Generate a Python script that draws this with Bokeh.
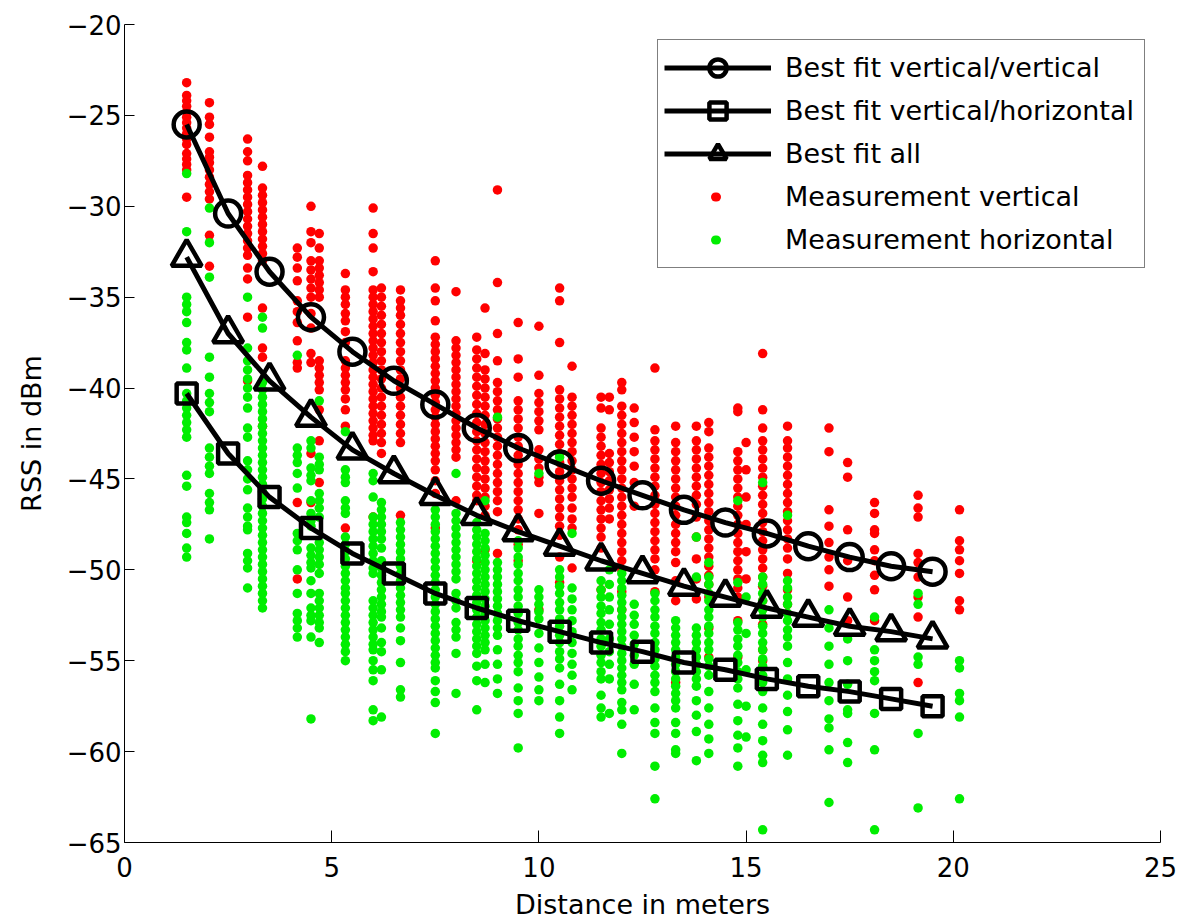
from bokeh.plotting import figure
from bokeh.models import Range1d, FixedTicker, Legend, LegendItem, CustomJSTickFormatter
from bokeh.embed import file_html
from bokeh.resources import INLINE

FONT = "DejaVu Sans"

# ---------------- data ----------------
fit_distance = [1.5, 2.5, 3.5, 4.5, 5.5, 6.5, 7.5, 8.5, 9.5, 10.5,
                11.5, 12.5, 13.5, 14.5, 15.5, 16.5, 17.5, 18.5, 19.5]
fit_vert_vert = [-25.5, -30.4, -33.6, -36.1, -38.0, -39.6, -40.9, -42.2, -43.3, -44.2,
                 -45.1, -45.9, -46.7, -47.4, -48.0, -48.7, -49.3, -49.8, -50.1]
fit_vert_horiz = [-40.3, -43.6, -46.0, -47.7, -49.1, -50.2, -51.3, -52.1, -52.8, -53.4,
                  -54.0, -54.5, -55.1, -55.5, -56.0, -56.4, -56.7, -57.1, -57.5]
fit_all = [-32.8, -37.0, -39.6, -41.6, -43.4, -44.7, -45.9, -47.0, -47.9, -48.7,
           -49.5, -50.2, -50.9, -51.5, -52.1, -52.6, -53.1, -53.4, -53.8]

meas_distance = [1.5, 2.05, 2.97, 3.33, 4.17, 4.5, 4.7, 5.33, 6.0, 6.2, 6.66, 7.5, 8.0,
                 8.5, 8.7, 9.0, 9.5, 10.0, 10.5, 10.8, 11.5, 11.7, 12.0, 12.3, 12.8,
                 13.3, 13.8, 14.1, 14.8, 15.0, 15.4, 16.0, 17.0, 17.45, 18.1, 19.15, 20.15]

red_rss = [
    [-23.2, -23.9, -24.2, -24.5, -24.8, -25.1, -25.4, -25.7, -26.0, -26.3, -26.6, -27.1, -27.4, -27.7, -28.0, -29.5],
    [-24.3, -25.1, -25.5, -26.2, -27.0, -27.3, -27.6, -28.0, -28.4, -28.8, -29.2, -29.6, -31.6, -33.3],
    [-26.3, -27.0, -27.5, -28.3, -28.7, -29.1, -29.5, -29.9, -30.3, -30.7, -31.1, -31.5, -31.9, -32.3, -32.7, -33.4, -34.0, -36.1, -39.6],
    [-27.8, -29.0, -29.4, -29.8, -30.2, -30.6, -31.0, -31.4, -31.8, -32.2, -32.6, -33.0, -35.6, -37.8, -38.3, -42.1],
    [-32.3, -32.8, -33.4, -34.1, -35.2, -35.8, -36.4, -37.4, -38.6, -38.9, -46.3, -50.5],
    [-30.0, -31.4, -32.0, -33.0, -33.5, -34.0, -34.5, -35.0, -35.9, -36.7, -38.1, -38.6, -43.6, -46.3],
    [-31.5, -32.3, -33.0, -33.4, -33.8, -34.2, -34.6, -35.0, -38.5, -38.9, -39.3, -39.7, -40.1, -41.2, -42.9, -45.2],
    [-33.7, -34.6, -35.0, -35.4, -35.9, -36.3, -36.9, -37.5, -38.5, -38.9, -39.3, -39.7, -40.1, -40.6, -41.2, -42.1, -47.7],
    [-30.1, -31.5, -32.3, -33.6, -34.6, -35.0, -35.4, -35.8, -36.2, -36.6, -37.0, -37.4, -37.8, -38.2, -38.6, -39.0,
     -39.4, -39.8, -40.2, -40.6, -41.0, -41.4, -41.8, -42.2, -42.6, -42.9, -47.1],
    [-34.5, -35.0, -35.5, -36.0, -36.5, -37.0, -37.5, -38.0, -38.5, -39.0, -39.5, -40.0, -40.5, -41.0, -41.5, -42.0, -42.5, -43.0, -43.6],
    [-34.6, -35.2, -35.6, -36.0, -36.5, -37.0, -37.5, -38.0, -38.5, -39.0, -39.5, -40.0, -40.5, -41.0, -41.5, -42.0, -42.5, -43.0, -47.0],
    [-33.0, -34.5, -35.2, -36.3, -37.2, -37.6, -38.0, -38.4, -38.8, -39.2, -39.6, -40.0, -40.4, -40.8, -41.2, -41.6,
     -42.0, -42.4, -42.8, -43.2, -43.6, -44.0, -44.5, -45.1, -45.8, -47.7],
    [-34.7, -37.4, -37.8, -38.2, -38.6, -39.0, -39.4, -39.8, -40.2, -40.6, -41.0, -41.4, -41.8, -42.2, -42.6, -43.0, -43.4, -43.8, -46.2],
    [-37.2, -37.9, -38.4, -38.9, -39.4, -39.9, -40.4, -40.9, -41.4, -41.9, -42.4, -42.9, -43.4, -43.9, -44.4, -44.9, -45.4, -45.9, -46.2, -49.5],
    [-35.6, -38.1, -39.0, -39.5, -40.0, -40.5, -41.0, -41.5, -42.0, -42.5, -43.0, -43.5, -44.0, -44.5, -45.0, -45.5, -46.0, -46.5, -47.0, -48.9],
    [-29.1, -34.2, -37.0, -38.5, -39.7, -40.2, -40.7, -41.2, -41.7, -42.2, -42.7, -43.2, -43.7, -44.2, -44.7, -45.2, -45.7, -46.2, -46.8, -49.1],
    [-36.4, -38.4, -39.4, -40.7, -41.2, -41.7, -42.2, -42.7, -43.2, -43.7, -44.2, -44.7, -45.2, -45.7, -46.2, -46.7, -47.2, -47.8, -48.6, -49.5],
    [-36.6, -39.3, -40.3, -40.8, -41.3, -41.8, -42.3, -43.4, -43.9, -44.4, -44.9, -45.2, -46.9, -52.2],
    [-34.5, -35.2, -37.5, -40.1, -40.6, -41.1, -41.6, -42.1, -42.6, -43.1, -43.6, -44.1, -44.6, -45.1, -45.6, -46.1,
     -46.6, -47.1, -47.6, -48.1, -49.3, -50.7],
    [-38.8, -40.5, -41.0, -41.5, -42.0, -42.5, -43.0, -43.5, -44.0, -44.5, -45.0, -45.5, -46.0, -46.6, -47.2, -47.7, -49.9],
    [-40.5, -41.1, -42.2, -42.7, -43.2, -43.7, -44.2, -44.7, -45.2, -45.7, -46.2, -46.7, -47.2, -47.7, -48.2, -48.8, -51.1],
    [-40.5, -41.2, -43.6, -44.1, -44.6, -45.1, -45.6, -46.1, -46.6, -47.2],
    [-39.7, -40.1, -41.0, -41.5, -42.0, -42.5, -43.0, -43.5, -44.0, -44.5, -45.0, -45.5, -46.0, -46.5, -47.0, -47.5,
     -48.0, -48.5, -49.0, -49.5, -50.0, -51.2, -52.2],
    [-41.1, -41.9, -42.7, -43.5, -44.3, -45.2, -46.5],
    [-38.9, -42.3, -42.9, -43.4, -43.9, -44.4, -44.9, -45.4, -45.9, -46.4, -46.9, -47.4, -47.9, -48.4, -48.9, -49.4, -50.0, -51.2],
    [-42.1, -43.0, -43.5, -44.0, -44.5, -45.0, -45.5, -46.0, -46.5, -47.0, -47.5, -48.0, -48.5, -49.0, -49.6, -50.6, -51.7, -56.2],
    [-42.1, -42.9, -43.4, -43.9, -44.4, -44.9, -45.4, -45.9, -46.4, -47.1, -48.2, -49.4, -50.5, -51.6],
    [-41.9, -42.4, -43.3, -43.8, -44.3, -44.8, -45.3, -45.8, -46.3, -46.8, -47.3, -47.8, -48.3, -48.8, -49.3, -49.8,
     -50.3, -50.8, -51.5, -53.2, -54.8],
    [-41.1, -41.3, -43.5, -44.0, -44.5, -45.0, -45.5, -46.0, -46.5, -47.0, -47.5, -48.0, -48.5, -49.0, -49.5, -50.0,
     -50.5, -51.0, -51.5, -52.8, -54.8],
    [-43.0, -44.5, -46.0, -47.5, -49.0, -50.5],
    [-38.1, -41.2, -42.2, -42.9, -43.4, -43.9, -44.4, -44.9, -45.4, -45.9, -46.4, -46.9, -47.4, -47.9, -48.4, -48.9,
     -49.4, -49.9, -50.4, -50.9, -51.7, -53.0, -54.4, -55.0],
    [-42.1, -42.9, -43.3, -43.8, -44.3, -44.8, -45.3, -45.8, -46.3, -46.8, -47.3, -47.8, -48.3, -48.8, -49.4, -50.2, -51.1, -51.9],
    [-42.2, -43.5, -46.7, -47.6, -48.5, -49.3, -50.0, -50.9],
    [-44.1, -44.9, -47.8, -49.5, -51.5, -52.8],
    [-46.3, -46.9, -47.8, -48.0, -48.9, -49.5, -50.3, -51.1, -52.8],
    [-45.9, -46.6, -47.1, -49.1, -49.6, -50.4, -51.5, -52.6, -56.2],
    [-46.7, -48.4, -48.9, -49.5, -50.2, -51.7, -52.2],
]

green_rss = [
    [-28.2, -31.4, -35.0, -35.4, -35.8, -36.4, -37.5, -37.9, -38.9, -40.3, -40.7, -41.1, -41.5, -41.9, -42.3, -42.7,
     -44.8, -45.4, -47.1, -47.4, -48.0, -48.8, -49.3],
    [-30.1, -32.0, -33.9, -38.3, -39.4, -40.3, -40.8, -41.3, -43.3, -43.8, -44.3, -44.7, -45.8, -46.3, -46.7, -48.3],
    [-35.0, -37.8, -38.5, -39.0, -39.5, -40.0, -40.5, -41.1, -42.2, -42.7, -44.0, -44.5, -45.0, -45.6, -46.6, -47.1,
     -47.6, -47.8, -49.1, -49.5, -49.9, -51.0],
    [-36.1, -36.7, -39.7, -40.1, -40.5, -40.9, -41.3, -41.7, -42.1, -42.5, -42.9, -43.3, -43.7, -44.1, -44.5, -44.9,
     -45.3, -45.7, -46.1, -46.5, -46.9, -47.3, -47.7, -48.1, -48.5, -48.9, -49.3, -49.7, -50.1, -50.5, -50.9, -51.3,
     -51.7, -52.1],
    [-38.2, -43.3, -43.7, -44.1, -44.7, -45.5, -48.0, -48.4, -48.9, -50.0, -51.3, -52.4, -52.8, -53.2, -53.7],
    [-42.9, -43.3, -44.4, -44.8, -45.1, -46.2, -46.9, -47.3, -47.6, -48.8, -49.2, -49.6, -49.9, -50.6, -51.3, -52.1,
     -52.5, -52.8, -53.7, -58.2],
    [-40.7, -43.8, -44.2, -44.5, -45.8, -46.2, -46.6, -47.1, -48.5, -48.9, -49.3, -49.7, -50.2, -51.3, -51.7, -52.1,
     -52.5, -52.9, -53.2, -54.0],
    [-42.4, -44.5, -44.9, -45.2, -46.2, -46.6, -46.9, -48.2, -48.6, -49.0, -49.4, -49.8, -50.2, -50.6, -51.0, -51.3,
     -51.7, -52.1, -52.5, -52.9, -53.3, -53.7, -54.1, -54.5, -55.0],
    [-44.7, -45.1, -46.0, -47.1, -47.5, -47.9, -48.3, -48.7, -49.1, -49.5, -49.9, -50.2, -51.7, -52.1, -52.5, -52.9,
     -53.3, -53.7, -54.1, -54.4, -55.0, -55.5, -56.1, -57.7, -58.3],
    [-46.3, -46.7, -47.1, -47.5, -47.9, -48.3, -48.8, -49.5, -49.9, -50.3, -50.7, -51.1, -51.5, -51.9, -52.3, -52.6,
     -53.2, -54.0, -54.5, -55.5, -58.1],
    [-47.4, -47.8, -48.2, -48.6, -49.0, -49.4, -49.8, -50.2, -50.6, -51.0, -51.4, -51.8, -52.2, -52.6, -53.2, -53.9,
     -55.1, -56.6, -57.0],
    [-46.7, -47.1, -47.5, -47.9, -48.3, -48.7, -49.1, -49.5, -49.9, -50.3, -50.7, -51.1, -51.5, -51.9, -52.3, -52.7,
     -53.1, -53.5, -53.9, -54.3, -54.7, -55.1, -55.4, -56.1, -56.7, -57.3, -59.0],
    [-44.7, -46.9, -47.3, -47.7, -48.1, -48.5, -48.9, -49.3, -49.7, -50.1, -50.5, -51.3, -51.7, -52.1, -52.9, -53.3,
     -53.7, -54.6, -56.8],
    [-47.4, -47.8, -48.2, -48.6, -49.0, -49.4, -49.8, -50.2, -50.6, -51.0, -51.4, -51.8, -52.2, -52.6, -53.0, -53.4,
     -53.8, -54.2, -54.6, -55.3, -56.1, -57.7],
    [-46.2, -48.0, -48.4, -48.8, -49.2, -49.6, -50.0, -50.4, -50.8, -51.2, -51.6, -52.0, -52.4, -52.8, -53.2, -53.6,
     -54.0, -54.4, -55.2, -56.2],
    [-41.6, -49.6, -50.0, -50.4, -50.8, -51.2, -51.6, -52.0, -52.4, -52.8, -53.2, -53.6, -54.4, -55.2, -56.0, -56.8],
    [-48.4, -48.8, -49.3, -49.7, -50.2, -50.6, -51.1, -51.5, -52.0, -52.4, -52.9, -53.3, -53.8, -54.2, -54.7, -55.1,
     -55.6, -56.5, -57.2, -57.9, -59.8],
    [-44.7, -51.1, -51.5, -51.9, -52.3, -52.7, -53.5, -54.3, -55.1, -55.9, -56.6, -57.2],
    [-43.8, -50.0, -50.4, -50.9, -51.3, -51.8, -52.2, -52.7, -53.1, -53.6, -54.0, -54.5, -54.9, -55.4, -56.3, -57.2,
     -58.1, -59.0],
    [-48.0, -51.0, -51.6, -52.2, -52.8, -53.4, -54.0, -54.6, -55.2, -55.8, -56.6],
    [-50.6, -51.1, -51.5, -52.0, -52.4, -52.9, -53.3, -53.8, -54.2, -54.7, -55.1, -55.6, -56.0, -56.9, -57.6, -58.1],
    [-50.0, -50.8, -51.5, -52.2, -53.0, -53.8, -54.5, -55.2, -56.0, -57.9],
    [-50.2, -50.6, -51.0, -51.4, -51.8, -52.2, -52.6, -53.0, -53.4, -53.8, -54.2, -54.6, -55.0, -55.4, -55.8, -56.2,
     -56.6, -57.3, -57.7, -58.5, -60.1],
    [-51.9, -52.5, -53.0, -53.6, -54.1, -54.7, -55.2, -56.3, -57.7],
    [-51.3, -51.7, -52.2, -52.6, -53.1, -53.5, -54.0, -54.4, -54.9, -55.3, -55.8, -56.2, -56.7, -57.6, -58.4, -59.0,
     -60.8, -62.6],
    [-52.8, -53.2, -53.6, -54.0, -54.4, -54.8, -55.2, -55.6, -56.0, -56.4, -56.8, -57.2, -57.6, -58.4, -59.0, -59.9, -60.1],
    [-48.2, -50.4, -53.2, -53.6, -54.0, -54.4, -54.8, -55.2, -55.6, -56.0, -56.4, -57.2, -58.0, -58.9, -60.5],
    [-49.6, -50.4, -50.8, -51.3, -51.7, -52.2, -52.6, -53.1, -53.5, -54.0, -54.4, -54.9, -55.3, -55.8, -56.7, -57.6,
     -58.5, -59.3, -60.1],
    [-46.2, -50.7, -52.9, -53.3, -53.8, -54.2, -54.7, -55.1, -55.6, -56.0, -56.5, -57.4, -58.3, -59.1, -59.8, -60.8],
    [-51.5, -53.5, -55.5, -57.5, -59.2],
    [-45.2, -50.4, -50.8, -51.3, -51.7, -52.2, -52.6, -53.1, -53.5, -54.0, -54.4, -54.9, -55.3, -55.8, -56.2, -56.7,
     -57.6, -58.5, -59.4, -60.2, -60.6, -64.3],
    [-47.0, -50.6, -51.0, -51.5, -51.9, -52.4, -52.8, -53.3, -53.7, -54.2, -55.1, -56.0, -56.9, -57.8, -58.8, -60.2],
    [-52.2, -53.2, -54.2, -55.2, -56.2, -57.2, -58.2, -58.7, -59.9, -62.8],
    [-53.8, -55.0, -56.3, -57.7, -57.9, -59.5, -60.6],
    [-52.6, -54.4, -55.0, -55.6, -56.1, -57.9, -59.9, -64.3],
    [-51.3, -51.9, -54.8, -55.2, -59.0, -63.1],
    [-55.0, -55.4, -56.8, -57.2, -58.1, -62.6],
]

x_ticks = [0, 5, 10, 15, 20, 25]
y_ticks = [-65, -60, -55, -50, -45, -40, -35, -30, -25, -20]

labels = ["Best fit vertical/vertical", "Best fit vertical/horizontal", "Best fit all",
          "Measurement vertical", "Measurement horizontal"]

RED = "#ff0000"
GREEN = "#00ee00"


def flatten(dists, cols):
    xs, ys = [], []
    for d, col in zip(dists, cols):
        xs.extend([d] * len(col))
        ys.extend(col)
    return xs, ys


red_x, red_y = flatten(meas_distance, red_rss)
green_x, green_y = flatten(meas_distance, green_rss)

# ---------------- figure ----------------
p = figure(width=1179, height=923, output_backend="svg", toolbar_location=None,
           x_range=Range1d(0, 25), y_range=Range1d(-65, -20),
           min_border_left=124, min_border_right=19, min_border_top=24, min_border_bottom=81)
p.background_fill_color = "white"
p.border_fill_color = "white"
p.outline_line_color = None
p.grid.visible = False

r_red = p.scatter(red_x, red_y, marker="circle", size=9.5, fill_color=RED, line_color=None)
r_green = p.scatter(green_x, green_y, marker="circle", size=9.5, fill_color=GREEN, line_color=None)

LW = 5
l1 = p.line(fit_distance, fit_vert_vert, line_color="black", line_width=LW)
m1 = p.scatter(fit_distance, fit_vert_vert, marker="circle", size=26, fill_color=None,
               line_color="black", line_width=4.5)
l2 = p.line(fit_distance, fit_vert_horiz, line_color="black", line_width=LW)
m2 = p.scatter(fit_distance, fit_vert_horiz, marker="square", size=20, fill_color=None,
               line_color="black", line_width=4.5)
l3 = p.line(fit_distance, fit_all, line_color="black", line_width=LW)
m3 = p.scatter(fit_distance, fit_all, marker="triangle", size=30, fill_color=None,
               line_color="black", line_width=4.5)

# legend-only dots: a one-point line (invisible in the plot) whose legend glyph is
# a single short round-capped dash in the middle of the glyph area
dot_red = p.line(red_x[:1], red_y[:1], line_color=RED, line_width=9, line_cap="round",
                 line_dash="1 300", line_dash_offset=250)
dot_green = p.line(green_x[:1], green_y[:1], line_color=GREEN, line_width=9, line_cap="round",
                   line_dash="1 300", line_dash_offset=250)

fmt = CustomJSTickFormatter(code="return (tick < 0 ? '\\u2212' : '') + Math.abs(tick).toString();")

for ax in (p.xaxis[0], p.yaxis[0]):
    ax.axis_line_color = "black"
    ax.axis_line_width = 1
    ax.major_tick_line_color = "black"
    ax.minor_tick_line_color = None
    ax.major_tick_out = 0
    ax.major_label_text_font = FONT
    ax.major_label_text_font_size = "26px"
    ax.major_label_text_color = "black"
    ax.axis_label_text_font = FONT
    ax.axis_label_text_font_size = "27px"
    ax.axis_label_text_font_style = "normal"
    ax.axis_label_text_color = "black"
    ax.formatter = fmt

p.xaxis.ticker = FixedTicker(ticks=x_ticks)
p.yaxis.ticker = FixedTicker(ticks=y_ticks)
p.xaxis.major_tick_in = 12
p.yaxis.major_tick_in = 10
p.xaxis.axis_label = "Distance in meters"
p.yaxis.axis_label = "RSS in dBm"
p.xaxis.major_label_standoff = 14
p.xaxis.axis_label_standoff = 9
p.yaxis.major_label_standoff = 3
p.yaxis.axis_label_standoff = 17

legend = Legend(items=[
    LegendItem(label=labels[0], renderers=[l1, m1]),
    LegendItem(label=labels[1], renderers=[l2, m2]),
    LegendItem(label=labels[2], renderers=[l3, m3]),
    LegendItem(label=labels[3], renderers=[dot_red]),
    LegendItem(label=labels[4], renderers=[dot_green]),
])
legend.location = "top_right"
legend.margin = 15
legend.padding = 6
legend.spacing = 0
legend.glyph_width = 107
legend.glyph_height = 43
legend.label_height = 43
legend.label_width = 353
legend.label_standoff = 14
legend.label_text_font = FONT
legend.label_text_font_size = "27px"
legend.label_text_color = "black"
legend.border_line_color = "black"
legend.border_line_width = 1
legend.background_fill_color = "white"
legend.background_fill_alpha = 1.0
p.add_layout(legend)

open("out.html", "w").write(file_html(p, INLINE))
